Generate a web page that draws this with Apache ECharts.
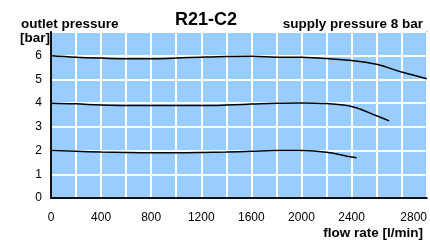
<!DOCTYPE html>
<html>
<head>
<meta charset="utf-8" />
<title>R21-C2</title>
<script src="https://cdn.jsdelivr.net/npm/echarts@6/dist/echarts.min.js"></script>
<style>
  html, body { margin: 0; padding: 0; background: #fff; }
  #main { width: 430px; height: 242px; }
</style>
</head>
<body>
<div id="main"></div>
<script>
// flow rate [l/min] -> outlet pressure [bar]
var flow6 = [0, 200, 400, 600, 800, 1000, 1200, 1400, 1600, 1800, 2000, 2200, 2400, 2600, 2800, 3000];
var pres6 = [6.0, 5.94, 5.9, 5.87, 5.87, 5.9, 5.94, 5.97, 5.98, 5.94, 5.93, 5.88, 5.8, 5.64, 5.31, 5.03];

var flow4 = [0, 200, 400, 600, 800, 1000, 1200, 1400, 1600, 1800, 2000, 2200, 2400, 2600, 2700];
var pres4 = [4.0, 3.97, 3.92, 3.9, 3.9, 3.9, 3.9, 3.92, 3.96, 4.0, 4.01, 3.98, 3.86, 3.47, 3.25];

var flow2 = [0, 200, 400, 600, 800, 1000, 1200, 1400, 1600, 1800, 2000, 2200, 2400, 2440];
var pres2 = [2.0, 1.97, 1.94, 1.92, 1.91, 1.91, 1.92, 1.94, 1.97, 2.0, 2.0, 1.93, 1.73, 1.7];

var xTickLabels = ['0', '400', '800', '1200', '1600', '2000', '2400', '2800'];
var yTickLabels = ['0', '1', '2', '3', '4', '5', '6'];

var font = "'Liberation Sans', Arial, Helvetica, sans-serif";

function pairs(xs, ys) {
    var out = [];
    for (var i = 0; i < xs.length; i++) {
        out.push([xs[i], ys[i]]);
    }
    return out;
}

function curve(xs, ys) {
    return {
        type: 'line',
        data: pairs(xs, ys),
        smooth: 0.4,
        showSymbol: false,
        lineStyle: { color: '#000', width: 1.5 },
        z: 5
    };
}

var myChart = echarts.init(document.getElementById('main'));
myChart.setOption({
    animation: false,
    backgroundColor: '#fff',
    title: [
        { text: 'R21-C2', left: 201, top: 6, textAlign: 'center',
          textStyle: { fontFamily: font, fontSize: 18, fontWeight: 'bold', color: '#000' } },
        { text: 'outlet pressure', left: 16, top: 12,
          textStyle: { fontFamily: font, fontSize: 13.5, fontWeight: 'bold', color: '#000' } },
        { text: '[bar]', left: 15, top: 26,
          textStyle: { fontFamily: font, fontSize: 13.5, fontWeight: 'bold', color: '#000' } },
        { text: 'supply pressure 8 bar', right: 2, top: 12,
          textStyle: { fontFamily: font, fontSize: 13.5, fontWeight: 'bold', color: '#000' } },
        { text: 'flow rate [l/min]', right: 2, top: 221,
          textStyle: { fontFamily: font, fontSize: 13.5, fontWeight: 'bold', color: '#000' } }
    ],
    grid: {
        left: 51, right: 1, top: 32, bottom: 44,
        show: true,
        backgroundColor: '#99ccff',
        borderColor: '#333',
        borderWidth: 1.5
    },
    xAxis: {
        type: 'value',
        min: 0, max: 3000, interval: 200,
        axisLine: { show: true, lineStyle: { color: '#111', width: 2 } },
        axisTick: { show: false },
        splitLine: { show: true, lineStyle: { color: '#fff', width: 2 } },
        axisLabel: {
            margin: 14,
            fontFamily: font, fontSize: 12, color: '#000',
            showMaxLabel: false,
            formatter: function (v) {
                var s = String(v);
                if (xTickLabels.indexOf(s) < 0) return '';
                if (s === '2800') return '{r|' + s + '}';
                return s;
            },
            rich: { r: { fontFamily: font, fontSize: 12, color: '#000', padding: [0, 0, 0, 24] } }
        }
    },
    yAxis: {
        type: 'value',
        min: 0, max: 7, interval: 1,
        axisLine: { show: true, lineStyle: { color: '#111', width: 2 } },
        axisTick: { show: false },
        splitLine: { show: true, lineStyle: { color: '#fff', width: 2 } },
        axisLabel: {
            margin: 9,
            fontFamily: font, fontSize: 12, color: '#000',
            formatter: function (v) {
                var s = String(v);
                return yTickLabels.indexOf(s) < 0 ? '' : s;
            }
        }
    },
    series: [
        curve(flow6, pres6),
        curve(flow4, pres4),
        curve(flow2, pres2)
    ]
});
</script>
</body>
</html>
